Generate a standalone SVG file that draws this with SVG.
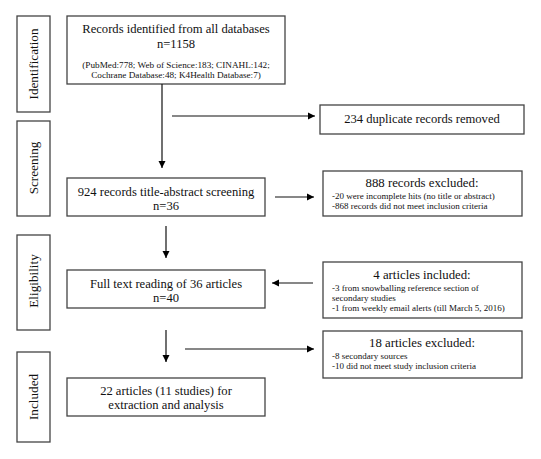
<svg xmlns="http://www.w3.org/2000/svg" width="541" height="459" viewBox="0 0 541 459">
<defs>
<marker id="ah" viewBox="0 0 10 10" refX="10" refY="5" markerWidth="7" markerHeight="8" markerUnits="userSpaceOnUse" orient="auto">
<path d="M0,0 L10,5 L0,10 z" fill="#000"/>
</marker>
<style>
.box{fill:#fff;stroke:#444;stroke-width:1.3}
.m{font-size:12.6px}
.s{font-size:9.2px}
.h{font-size:12.8px}
.d{font-size:9px}
.lab{font-size:13.2px}
.c{stroke:#111;stroke-width:1.2;fill:none;marker-end:url(#ah)}
</style>
</defs>
<rect width="541" height="459" fill="#fff"/>
<g font-family="Liberation Serif, Times New Roman, serif" fill="#111">
<g id="stage-identification">
<rect class="box" x="17" y="16" width="33" height="96"/>
<text class="lab" transform="translate(38,64) rotate(-90)" text-anchor="middle">Identification</text>
</g>
<g id="stage-screening">
<rect class="box" x="17" y="121" width="33" height="95"/>
<text class="lab" transform="translate(38,168) rotate(-90)" text-anchor="middle">Screening</text>
</g>
<g id="stage-eligibility">
<rect class="box" x="17" y="235" width="33" height="95"/>
<text class="lab" transform="translate(38,281) rotate(-90)" text-anchor="middle">Eligibility</text>
</g>
<g id="stage-included">
<rect class="box" x="17" y="352" width="33" height="90"/>
<text class="lab" transform="translate(38,397) rotate(-90)" text-anchor="middle">Included</text>
</g>
<g id="identified">
<rect class="box" x="67" y="16" width="218" height="68"/>
<text class="m" x="176" y="33" text-anchor="middle">Records identified from all databases</text>
<text class="m" x="176" y="48" text-anchor="middle">n=1158</text>
<text class="s" x="176" y="68" text-anchor="middle">(PubMed:778; Web of Science:183; CINAHL:142;</text>
<text class="s" x="176" y="78" text-anchor="middle">Cochrane Database:48; K4Health Database:7)</text>
</g>
<g id="duplicates">
<rect class="box" x="320" y="105" width="204" height="29"/>
<text class="m" x="422" y="123" text-anchor="middle">234 duplicate records removed</text>
</g>
<g id="screening">
<rect class="box" x="67" y="178" width="198" height="38"/>
<text class="m" x="166" y="196" text-anchor="middle">924 records title-abstract screening</text>
<text class="m" x="166" y="210" text-anchor="middle">n=36</text>
</g>
<g id="excluded-records">
<rect class="box" x="323" y="171" width="199" height="45"/>
<text class="h" x="422" y="187" text-anchor="middle">888 records excluded:</text>
<text class="d" x="332" y="199">-20 were incomplete hits (no title or abstract)</text>
<text class="d" x="332" y="209">-868 records did not meet inclusion criteria</text>
</g>
<g id="fulltext">
<rect class="box" x="67" y="270" width="198" height="38"/>
<text class="m" x="166" y="288" text-anchor="middle">Full text reading of 36 articles</text>
<text class="m" x="166" y="302" text-anchor="middle">n=40</text>
</g>
<g id="added-articles">
<rect class="box" x="323" y="262" width="199" height="56"/>
<text class="h" x="422" y="279" text-anchor="middle">4 articles included:</text>
<text class="d" x="332" y="291">-3 from snowballing reference section of</text>
<text class="d" x="332" y="301">secondary studies</text>
<text class="d" x="332" y="311">-1 from weekly email alerts (till March 5, 2016)</text>
</g>
<g id="excluded-articles">
<rect class="box" x="323" y="331" width="199" height="47"/>
<text class="h" x="422" y="347" text-anchor="middle">18 articles excluded:</text>
<text class="d" x="332" y="359">-8 secondary sources</text>
<text class="d" x="332" y="369">-10 did not meet study inclusion criteria</text>
</g>
<g id="included">
<rect class="box" x="67" y="378" width="198" height="38"/>
<text class="m" x="166" y="395" text-anchor="middle">22 articles (11 studies) for</text>
<text class="m" x="166" y="409" text-anchor="middle">extraction and analysis</text>
</g>
</g>
<g id="connectors">
<path class="c" d="M162,84 V168"/>
<path class="c" d="M172,116 H315"/>
<path class="c" d="M275,197 H314"/>
<path class="c" d="M166,226 V258"/>
<path class="c" d="M313,283 H272"/>
<path class="c" d="M166,330 V362"/>
<path class="c" d="M185,349 H314"/>
</g>
</svg>
